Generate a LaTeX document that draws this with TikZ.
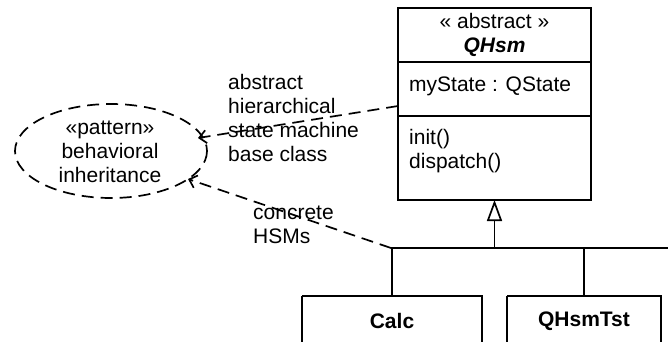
\documentclass[tikz,border=0pt]{standalone}
\usepackage{fontspec}
\setmainfont{Liberation Sans}
\usetikzlibrary{arrows.meta}
\begin{document}
\begin{tikzpicture}[x=1pt,y=-1pt,
  txt/.style={font=\fontsize{21}{24}\selectfont, inner sep=0pt},
  boxline/.style={line width=2.4pt},
  dep/.style={dash pattern=on 12pt off 7pt, line width=1.7pt, -{Straight Barb[length=7pt,width=13pt,line width=1.7pt]}},
  thin/.style={line width=1.7pt}]
\useasboundingbox (0,0) rectangle (668,341);
% QHsm class
\draw[boxline] (398,8) rectangle (591,200);
\draw[thin] (398,62) -- (591,62);
\draw[thin] (398,116) -- (591,116);
\node[txt] (st) at (494.5,21) {« abstract »};
\node[txt,font=\fontsize{21}{24}\selectfont\bfseries\itshape] (qh) at (494.5,47) {QHsm};
\node[txt,anchor=west] (attr) at (409,86) {myState : QState};
\node[txt,anchor=north west,align=left] (ops) at (409,129) {init()\\dispatch()};
\coordinate (qbot) at (494.5,200);
\coordinate (qleft) at (398,106);
% subclasses
\draw[boxline] (302,296) -- (302,345) (302,296) -- (482,296) -- (482,345);
\draw[boxline] (507,296) -- (507,345) (507,296) -- (661,296) -- (661,345);
\node[txt,font=\fontsize{21}{24}\selectfont\bfseries] (calc) at (392,321) {Calc};
\node[txt,font=\fontsize{21}{24}\selectfont\bfseries] (tst) at (584,321) {QHsmTst};
% generalization tree
\coordinate (j) at (391,248);
\coordinate (jm) at (494.5,248);
\coordinate (jr) at (668,248);
\coordinate (c1) at (392,296);
\coordinate (c2) at (584,296);
\draw[thin] (j) -- (jr);
\draw[thin] (392,248) -- (c1);
\draw[thin] (584,248) -- (c2);
\draw[thin,-{Triangle[open,length=21pt,width=15pt,line width=1.7pt]}] (jm) -- (qbot);
% pattern ellipse
\draw[dash pattern=on 12pt off 7pt, line width=1.7pt] (111,151) ellipse [x radius=96, y radius=47];
\node[txt,align=center] (pat) at (110,152) {«pattern»\\behavioral\\inheritance};
\coordinate (e1) at (198,138);
\coordinate (e2) at (188,179);
\draw[dep] (qleft) -- (e1);
\draw[dep] (j) -- (e2);
% labels
\node[txt,anchor=north west,align=left] (l1) at (228,74) {abstract\\hierarchical\\state machine\\base class};
\node[txt,anchor=north west,align=left] (l2) at (253,206) {concrete\\HSMs};
\end{tikzpicture}
\end{document}
